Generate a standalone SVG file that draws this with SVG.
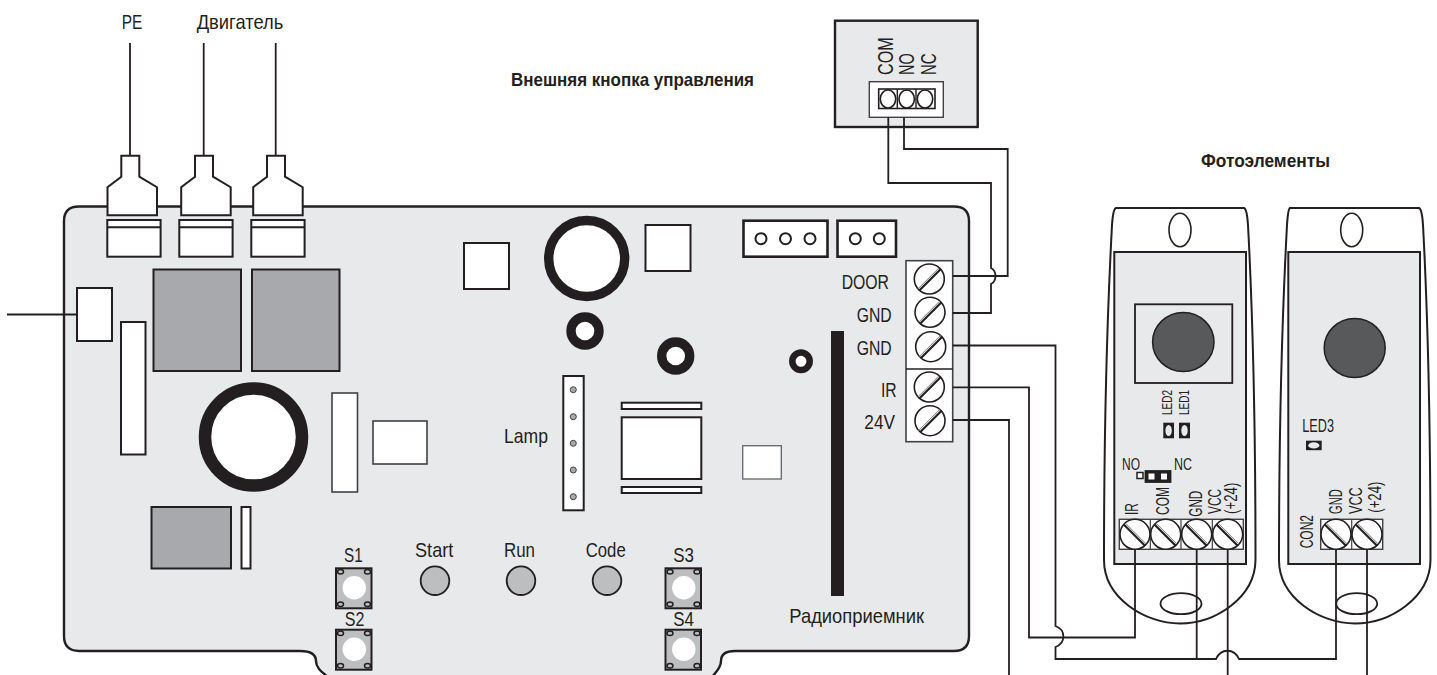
<svg xmlns="http://www.w3.org/2000/svg" width="1437" height="675" viewBox="0 0 1437 675">
<style>
text{font-family:"Liberation Sans",Arial,sans-serif;fill:#231f20;font-size:21px}
.s13{font-size:14px}
.s16{font-size:16px}
.s17{font-size:17.5px}
.s22{font-size:22px}
.b{font-weight:bold;font-size:19px}
.k{stroke:#231f20;stroke-width:2;fill:#fff}
.k3{stroke:#231f20;stroke-width:2.6;fill:#fff}
.thin{stroke:#414042;stroke-width:1.6;fill:#fff}
.g{stroke:#231f20;stroke-width:2;fill:#a7a9ac}
.p{stroke:#231f20;stroke-width:2;fill:#e8e9eb}
.w{fill:none;stroke:#231f20;stroke-width:1.8;stroke-linejoin:miter}
.sc{fill:#fff;stroke:#231f20;stroke-width:1.6}
.sl{stroke:#231f20;stroke-width:2.2}
.sl2{stroke:#808285;stroke-width:1}
</style>
<defs>
<g id="screwR"><circle r="15" class="sc"/><line x1="-10" y1="11.5" x2="11.5" y2="-10" class="sl"/><line x1="-11.5" y1="10" x2="10" y2="-11.5" class="sl2"/></g>
<g id="screwL"><circle r="15" class="sc"/><line x1="-11.5" y1="-10" x2="10" y2="11.5" class="sl"/><line x1="-10" y1="-11.5" x2="11.5" y2="10" class="sl2"/></g>
<g id="button">
<rect x="0" y="0" width="35.5" height="40" fill="#bcbec0" stroke="#231f20" stroke-width="2"/>
<circle cx="18.3" cy="19.5" r="11.7" fill="#fff"/>
<g fill="none" stroke="#231f20" stroke-width="1.5"><ellipse cx="4.5" cy="3.5" rx="3" ry="2.3"/><ellipse cx="31.5" cy="3.5" rx="3" ry="2.3"/><ellipse cx="4.5" cy="36" rx="3" ry="2.3"/><ellipse cx="31.5" cy="36" rx="3" ry="2.3"/></g>
</g>
<path id="plug" d="M-8.7,0 H9.3 V21 L27,31.5 V59.5 H-22.5 V31.5 L-8.7,21 Z" class="k"/>
<g id="term"><rect x="0" y="0" width="53.3" height="36.7" class="k"/><line x1="0" y1="7.3" x2="53.3" y2="7.3" stroke="#231f20" stroke-width="2"/></g>
</defs>

<g id="board">
<path d="M79,206.5 H954 Q969,206.5 969,221 V636 Q969,651 954,651 H735 C725,651 721,655 721,661 C721,668 716,672 712,677 H328 C322,672 316,668 316,661 C316,655 311,651 300,651 H79 Q64,651 64,636 V221 Q64,206.5 79,206.5 Z" fill="#e8e9eb" stroke="#231f20" stroke-width="2.4"/>
</g>

<g id="motor-connectors">
<use href="#plug" x="130" y="155.7"/>
<use href="#plug" x="203.7" y="155.7"/>
<use href="#plug" x="275.7" y="155.7"/>
<use href="#term" x="107.3" y="220"/>
<use href="#term" x="179.3" y="220"/>
<use href="#term" x="251.3" y="220"/>
</g>

<g id="components">
<rect x="153.5" y="269.5" width="87.5" height="101.5" class="g"/>
<rect x="252" y="269.5" width="87.5" height="101.5" class="g"/>
<rect x="77" y="288" width="35" height="53" class="k"/>
<rect x="121" y="322" width="24.5" height="132.5" class="k"/>
<circle cx="253.5" cy="437" r="48.5" fill="#fff" stroke="#231f20" stroke-width="12.5"/>
<rect x="151.5" y="507" width="79.5" height="61.5" class="g"/>
<rect x="241.5" y="507" width="9" height="61.5" class="k"/>
<rect x="332" y="393" width="25.5" height="99" class="thin"/>
<rect x="373" y="421" width="54" height="43" class="thin"/>
<rect x="464" y="243" width="45" height="46" class="k"/>
<circle cx="586.7" cy="258.5" r="38" fill="#fff" stroke="#231f20" stroke-width="9.4"/>
<rect x="645.5" y="225" width="45" height="46" class="k"/>
<circle cx="585" cy="331" r="14" fill="#fff" stroke="#231f20" stroke-width="9.4"/>
<circle cx="675.7" cy="356" r="14" fill="#fff" stroke="#231f20" stroke-width="9.4"/>
<circle cx="801" cy="361.3" r="8.7" fill="#fff" stroke="#231f20" stroke-width="6.5"/>
<rect x="831" y="331" width="13" height="265" fill="#231f20"/>
<rect x="621.7" y="402.7" width="79.6" height="6.3" class="k"/>
<rect x="621.7" y="417.3" width="79.6" height="61.7" class="k"/>
<rect x="621.7" y="487" width="79.6" height="6" class="k"/>
<rect x="742.7" y="445.7" width="38.6" height="33.3" fill="#fff" stroke="#6d6e71" stroke-width="1.4"/>
</g>

<g id="lamp">
<rect x="563.3" y="376" width="20.4" height="134.3" class="k"/>
<g fill="#a7a9ac" stroke="#414042" stroke-width="1"><circle cx="573.3" cy="389.7" r="3"/><circle cx="573.3" cy="416.7" r="3"/><circle cx="573.3" cy="443.3" r="3"/><circle cx="573.3" cy="470" r="3"/><circle cx="573.3" cy="496.7" r="3"/></g>
<text x="504" y="442.7" textLength="44" lengthAdjust="spacingAndGlyphs">Lamp</text>
</g>

<g id="header-3"><rect x="743.5" y="220.7" width="84" height="36" class="k3"/><g fill="none" stroke="#231f20" stroke-width="2"><circle cx="761" cy="238.7" r="5.5"/><circle cx="785.5" cy="238.7" r="5.5"/><circle cx="810" cy="238.7" r="5.5"/></g></g>
<g id="header-2"><rect x="837.5" y="220.7" width="58.5" height="36" class="k3"/><g fill="none" stroke="#231f20" stroke-width="2"><circle cx="855.3" cy="238.7" r="5.5"/><circle cx="879.3" cy="238.7" r="5.5"/></g></g>

<g id="terminal-block">
<rect x="906" y="260.7" width="46.7" height="181" fill="#fff" stroke="#414042" stroke-width="1.6"/>
<line x1="906" y1="369" x2="952.7" y2="369" stroke="#231f20" stroke-width="1.6"/>
<use href="#screwR" x="929.3" y="279"/><use href="#screwR" x="930" y="312.3"/><use href="#screwR" x="930.7" y="346.7"/><use href="#screwR" x="929.3" y="387"/><use href="#screwR" x="930" y="420.7"/>
<text x="841.7" y="288.7" textLength="47.3" lengthAdjust="spacingAndGlyphs">DOOR</text>
<text x="856.7" y="321.7" textLength="35" lengthAdjust="spacingAndGlyphs">GND</text>
<text x="856.7" y="355" textLength="35" lengthAdjust="spacingAndGlyphs">GND</text>
<text x="881" y="396.7" textLength="15.7" lengthAdjust="spacingAndGlyphs">IR</text>
<text x="864.3" y="429.3" textLength="30.7" lengthAdjust="spacingAndGlyphs">24V</text>
</g>

<g id="radio"><text x="789.3" y="622.7" textLength="134.7" lengthAdjust="spacingAndGlyphs">Радиоприемник</text></g>

<g id="buttons">
<use href="#button" x="336" y="568.3"/><use href="#button" x="336" y="629.7"/><use href="#button" x="665.5" y="568.3"/><use href="#button" x="665.5" y="629.7"/>
<text x="344" y="561.7" textLength="18.7" lengthAdjust="spacingAndGlyphs">S1</text>
<text x="344.7" y="626" textLength="19.6" lengthAdjust="spacingAndGlyphs">S2</text>
<text x="673.3" y="561.7" textLength="20.7" lengthAdjust="spacingAndGlyphs">S3</text>
<text x="673.3" y="626" textLength="20.7" lengthAdjust="spacingAndGlyphs">S4</text>
</g>
<g id="indicators">
<g fill="#bcbec0" stroke="#231f20" stroke-width="1.8"><circle cx="435" cy="580.7" r="14.3"/><circle cx="521" cy="580.7" r="14.3"/><circle cx="607" cy="580.7" r="14.3"/></g>
<text x="415" y="557.3" textLength="38.3" lengthAdjust="spacingAndGlyphs">Start</text>
<text x="504" y="557.3" textLength="31" lengthAdjust="spacingAndGlyphs">Run</text>
<text x="585.7" y="557.3" textLength="40" lengthAdjust="spacingAndGlyphs">Code</text>
</g>

<g id="external-button">
<rect x="835" y="20.7" width="142.7" height="106.3" fill="#e8e9eb" stroke="#231f20" stroke-width="2.4"/>
<rect x="869.3" y="81.7" width="74" height="35.6" fill="#fff" stroke="#414042" stroke-width="1.4"/>
<rect x="878.7" y="89" width="56.3" height="19.5" fill="#fff" stroke="#231f20" stroke-width="1.6"/>
<path d="M897.3,89 V108.5 M916,89 V108.5" stroke="#231f20" stroke-width="1.4"/>
<g fill="#fff" stroke="#231f20" stroke-width="1.6"><ellipse cx="888" cy="99" rx="7.7" ry="9"/><ellipse cx="906.7" cy="99" rx="7.7" ry="9"/><ellipse cx="925" cy="99" rx="7.7" ry="9"/></g>
<text class="s22" transform="translate(893.3 75) rotate(-90)" textLength="37.7" lengthAdjust="spacingAndGlyphs">COM</text>
<text class="s22" transform="translate(914.3 75) rotate(-90)" textLength="21.7" lengthAdjust="spacingAndGlyphs">NO</text>
<text class="s22" transform="translate(936 75) rotate(-90)" textLength="21.7" lengthAdjust="spacingAndGlyphs">NC</text>
</g>

<g id="photocell-1">
<path d="M1116,208 H1244 Q1247,209 1248,225 C1252,300 1255.5,400 1255.5,560 C1255,598 1215,623.5 1180,623.5 C1145,623.5 1104,598 1104,560 C1104,400 1108,300 1112,225 Q1113,209 1116,208 Z" fill="#fff" stroke="#231f20" stroke-width="2"/>
<ellipse cx="1180" cy="230" rx="11" ry="16.7" fill="#fff" stroke="#231f20" stroke-width="1.6"/>
<rect x="1114.3" y="252" width="131.7" height="312" class="p"/>
<rect x="1135" y="304.3" width="97.3" height="78.7" fill="none" stroke="#231f20" stroke-width="1.8"/>
<ellipse cx="1183.3" cy="342" rx="30.7" ry="29.5" fill="#58595b" stroke="#231f20" stroke-width="1.5"/>
<text class="s13" transform="translate(1172 415) rotate(-90)" textLength="25" lengthAdjust="spacingAndGlyphs">LED2</text>
<text class="s13" transform="translate(1189.3 415) rotate(-90)" textLength="25" lengthAdjust="spacingAndGlyphs">LED1</text>
<rect x="1163.3" y="422.7" width="10.7" height="15.6" fill="#231f20"/><ellipse cx="1168.6" cy="430.5" rx="3.2" ry="5.6" fill="#e8e9eb"/>
<rect x="1179" y="422.7" width="11" height="15.6" fill="#231f20"/><ellipse cx="1184.5" cy="430.5" rx="3.2" ry="5.6" fill="#e8e9eb"/>
<text class="s16" x="1122" y="470" textLength="18" lengthAdjust="spacingAndGlyphs">NO</text>
<text class="s16" x="1174" y="470" textLength="18" lengthAdjust="spacingAndGlyphs">NC</text>
<rect x="1137" y="472.5" width="6" height="6" fill="#fff" stroke="#231f20" stroke-width="1.5"/>
<rect x="1145.5" y="471" width="25" height="11" fill="#231f20" stroke="#231f20" stroke-width="1.8"/>
<rect x="1148.5" y="473.5" width="6" height="6" fill="#fff"/><rect x="1161" y="473.5" width="6" height="6" fill="#fff"/>
<rect x="1119.3" y="519.3" width="124" height="30" fill="#fff" stroke="#414042" stroke-width="1.4"/>
<path d="M1150.3,519.3 V549.3 M1181,519.3 V549.3 M1212.3,519.3 V549.3" stroke="#414042" stroke-width="1.2"/>
<use href="#screwL" x="1135" y="534.3"/><use href="#screwL" x="1165.7" y="534.3"/><use href="#screwL" x="1196.7" y="534.3"/><use href="#screwL" x="1227.7" y="534.3"/>
<ellipse cx="1181" cy="603.7" rx="20.5" ry="10.5" fill="none" stroke="#231f20" stroke-width="1.8"/>
<text class="s17" transform="translate(1137.7 515) rotate(-90)" textLength="12" lengthAdjust="spacingAndGlyphs">IR</text>
<text class="s17" transform="translate(1169 515) rotate(-90)" textLength="28" lengthAdjust="spacingAndGlyphs">COM</text>
<text class="s17" transform="translate(1201.7 516.7) rotate(-90)" textLength="26" lengthAdjust="spacingAndGlyphs">GND</text>
<text class="s17" transform="translate(1221 514) rotate(-90)" textLength="25" lengthAdjust="spacingAndGlyphs">VCC</text>
<text class="s17" transform="translate(1237 514) rotate(-90)" textLength="31.3" lengthAdjust="spacingAndGlyphs">(+24)</text>
</g>

<g id="photocell-2">
<path d="M1290,208 H1419 Q1422,209 1423,225 C1427,300 1430.5,400 1430.5,560 C1430,598 1390,623.5 1355,623.5 C1320,623.5 1279,598 1279,560 C1279,400 1283,300 1287,225 Q1288,209 1290,208 Z" fill="#fff" stroke="#231f20" stroke-width="2"/>
<ellipse cx="1351.7" cy="230" rx="11" ry="16.7" fill="#fff" stroke="#231f20" stroke-width="1.6"/>
<rect x="1288.3" y="252" width="131.7" height="312" class="p"/>
<ellipse cx="1354.7" cy="348" rx="30.5" ry="29.5" fill="#58595b" stroke="#231f20" stroke-width="1.5"/>
<text class="s17" x="1302.3" y="431.7" textLength="31.7" lengthAdjust="spacingAndGlyphs">LED3</text>
<rect x="1306" y="440.7" width="15.7" height="9.5" fill="#231f20"/><ellipse cx="1313.8" cy="445.4" rx="5.6" ry="3.1" fill="#e8e9eb"/>
<rect x="1320.7" y="519.3" width="62" height="30" fill="#fff" stroke="#414042" stroke-width="1.4"/>
<path d="M1351.7,519.3 V549.3" stroke="#414042" stroke-width="1.2"/>
<use href="#screwL" x="1336" y="534.3"/><use href="#screwL" x="1367" y="534.3"/>
<ellipse cx="1356.7" cy="603.7" rx="20.5" ry="10.5" fill="none" stroke="#231f20" stroke-width="1.8"/>
<text class="s17" transform="translate(1312.7 548.3) rotate(-90)" textLength="33.3" lengthAdjust="spacingAndGlyphs">CON2</text>
<text class="s17" transform="translate(1342.3 514) rotate(-90)" textLength="24.7" lengthAdjust="spacingAndGlyphs">GND</text>
<text class="s17" transform="translate(1361.7 514) rotate(-90)" textLength="26.7" lengthAdjust="spacingAndGlyphs">VCC</text>
<text class="s17" transform="translate(1380.7 512.7) rotate(-90)" textLength="31" lengthAdjust="spacingAndGlyphs">(+24)</text>
</g>

<g id="connectors">
<path class="w" d="M130,43 V156"/>
<path class="w" d="M203.7,43 V156"/>
<path class="w" d="M275.7,43 V156"/>
<path class="w" d="M7,314.5 H77"/>
<path class="w" d="M904,117.3 V149 H1007.7 V276 H952.7"/>
<path class="w" d="M888.3,117.3 V183 H991 V268 C997,271 997,281 991,284 V313 H952.7"/>
<path class="w" d="M952.7,345.5 H1055.5 V626 C1066,630 1066,643 1055.5,647 V659 H1216 C1221,648 1234,648 1239,659 H1336 V549"/>
<path class="w" d="M1196.7,549 V659"/>
<path class="w" d="M952.7,387.3 H1029 V637.5 H1135 V549"/>
<path class="w" d="M952.7,420 H1009 V675"/>
<path class="w" d="M1227.7,549 V675"/>
<path class="w" d="M1367,549 V675"/>
</g>

<g id="labels">
<text x="121.7" y="29" textLength="20.6" lengthAdjust="spacingAndGlyphs">PE</text>
<text x="196.7" y="29" textLength="86.6" lengthAdjust="spacingAndGlyphs">Двигатель</text>
<text class="b" x="511" y="86" textLength="243" lengthAdjust="spacingAndGlyphs">Внешняя кнопка управления</text>
<text class="b" x="1201" y="167" textLength="129" lengthAdjust="spacingAndGlyphs">Фотоэлементы</text>
</g>
</svg>
